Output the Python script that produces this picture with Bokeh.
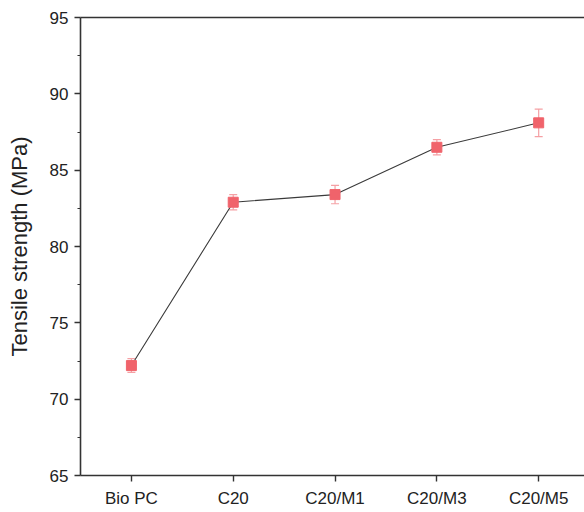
from bokeh.plotting import figure
from bokeh.models import ColumnDataSource, Range1d, FixedTicker, LinearAxis, Whisker, TeeHead
from bokeh.embed import file_html
from bokeh.resources import INLINE

categories = ["Bio PC", "C20", "C20/M1", "C20/M3", "C20/M5"]
strength = [72.2, 82.9, 83.4, 86.5, 88.1]
err = [0.45, 0.5, 0.6, 0.5, 0.9]

xs = list(range(1, len(categories) + 1))
src = ColumnDataSource(dict(
    x=xs, y=strength,
    lo=[v - e for v, e in zip(strength, err)],
    hi=[v + e for v, e in zip(strength, err)],
))

p = figure(width=584, height=512, output_backend="svg", toolbar_location=None,
           x_range=Range1d(0.5, 5.45), y_range=Range1d(65, 95),
           min_border_left=80, min_border_right=0, min_border_top=17, min_border_bottom=37)
p.outline_line_color = None
p.grid.grid_line_color = None
p.background_fill_color = "white"

axis_color = "#333333"
for ax in [p.xaxis[0], p.yaxis[0]]:
    ax.axis_line_color = axis_color
    ax.axis_line_width = 1.6
    ax.major_tick_line_color = axis_color
    ax.major_tick_line_width = 1.4
    ax.minor_tick_line_color = axis_color
    ax.minor_tick_line_width = 1.2
    ax.major_tick_out = 6
    ax.major_tick_in = 0
    ax.minor_tick_out = 3
    ax.minor_tick_in = 0
    ax.major_label_text_font = "Liberation Sans"
    ax.major_label_text_color = "#222222"
    ax.major_label_text_font_size = "17px"

p.xaxis.ticker = FixedTicker(ticks=xs)
p.xaxis.major_label_overrides = {i: c for i, c in zip(xs, categories)}
p.xaxis.major_label_standoff = 7

p.yaxis.ticker = FixedTicker(ticks=[65, 70, 75, 80, 85, 90, 95],
                             minor_ticks=[67.5, 72.5, 77.5, 82.5, 87.5, 92.5])
p.yaxis.axis_label = "Tensile strength (MPa)"
p.yaxis.axis_label_text_font = "Liberation Sans"
p.yaxis.axis_label_text_font_style = "normal"
p.yaxis.axis_label_text_font_size = "22px"
p.yaxis.axis_label_text_color = "#222222"
p.yaxis.axis_label_standoff = 15
p.yaxis.major_label_standoff = 6

top = LinearAxis(ticker=FixedTicker(ticks=[]), major_tick_line_color=None,
                 minor_tick_line_color=None, axis_line_color=axis_color,
                 axis_line_width=1.6)
p.add_layout(top, "above")

p.line("x", "y", source=src, line_color="#3a3a3a", line_width=1.1)
w = Whisker(base="x", lower="lo", upper="hi", source=src, line_color="#f5a0a4", line_width=1.2,
            upper_head=TeeHead(size=8, line_color="#f5a0a4", line_width=1.2),
            lower_head=TeeHead(size=8, line_color="#f5a0a4", line_width=1.2))
p.add_layout(w)
p.scatter("x", "y", source=src, marker="square", size=10, fill_color="#f0636b",
          line_color="#f0636b")

open("out.html", "w").write(file_html(p, INLINE))
